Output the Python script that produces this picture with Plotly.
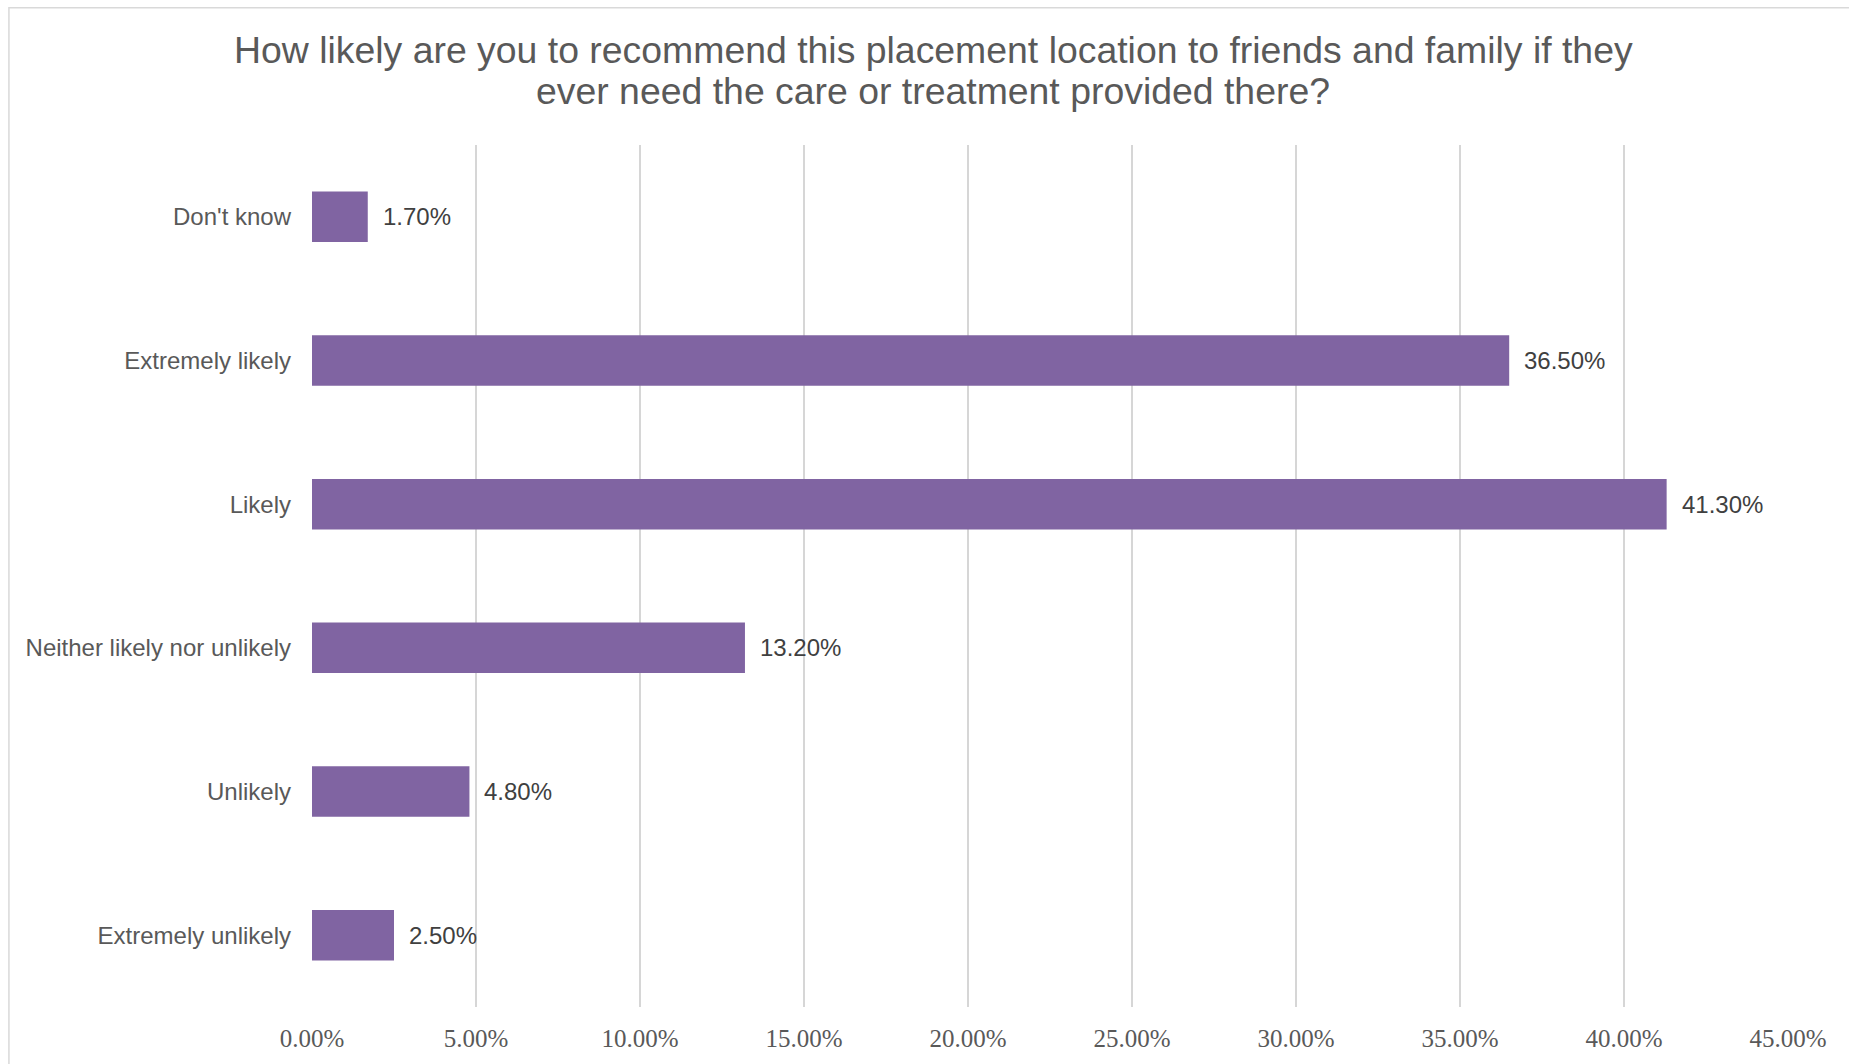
import plotly.graph_objects as go

categories = ["Don't know", "Extremely likely", "Likely",
              "Neither likely nor unlikely", "Unlikely", "Extremely unlikely"]
values = [0.017, 0.365, 0.413, 0.132, 0.048, 0.025]
value_labels = ["1.70%", "36.50%", "41.30%", "13.20%", "4.80%", "2.50%"]
tick_vals = [0, 0.05, 0.10, 0.15, 0.20, 0.25, 0.30, 0.35, 0.40, 0.45]
title_lines = ["How likely are you to recommend this placement location to friends and family if they",
               "ever need the care or treatment provided there?"]

W, H = 1849, 1064
L, R, T, B = 311.6, 61.3, 145, 55
PW, PH = W - L - R, H - T - B

def py(ypx):
    return (H - B - ypx) / PH

def px(xpx):
    return (xpx - L) / PW

fig = go.Figure()
fig.add_trace(go.Bar(
    y=categories, x=values, orientation="h",
    marker=dict(color="#8064A2", line=dict(width=0)),
    hoverinfo="skip",
))

annotations = []
for c, v, t in zip(categories, values, value_labels):
    annotations.append(dict(
        x=v, y=c, xref="x", yref="y", text=t, showarrow=False,
        xanchor="left", yanchor="middle", xshift=13,
        font=dict(family="Arial, Liberation Sans", size=24, color="#404040"),
    ))

title_x = px(932.7)
for line, base in zip(title_lines, [62.5, 103.5]):
    size = 37.4
    annotations.append(dict(
        x=title_x, y=py(base - 0.35 * size), xref="paper", yref="paper",
        text=line, showarrow=False, xanchor="center", yanchor="middle",
        font=dict(family="Arial, Liberation Sans", size=size, color="#595959"),
    ))

fig.update_layout(
    width=W, height=H,
    margin=dict(l=L, r=R, t=T, b=B, pad=0),
    paper_bgcolor="white", plot_bgcolor="white",
    bargap=0.649,
    showlegend=False,
    annotations=annotations,
    shapes=[dict(type="rect", xref="paper", yref="paper",
                 x0=px(8.5), x1=px(W + 50), y0=py(H + 50), y1=py(7.5),
                 line=dict(color="#D9D9D9", width=1.5), layer="below")],
    xaxis=dict(
        range=[0, 0.45], tickvals=tick_vals, tickformat=".2%",
        showgrid=True, gridcolor="#D6D6D6", gridwidth=1.6,
        zeroline=False, showline=False,
        ticks="", ticklabelstandoff=14,
        tickfont=dict(family="Liberation Serif, DejaVu Serif", size=25, color="#595959"),
        fixedrange=True,
    ),
    yaxis=dict(
        autorange="reversed", categoryorder="array", categoryarray=categories,
        showgrid=False, zeroline=False, showline=False,
        ticks="", ticklabelstandoff=20,
        tickfont=dict(family="Arial, Liberation Sans", size=24, color="#595959"),
        fixedrange=True,
    ),
)

fig.write_html("out.html", config={"displayModeBar": False},
               post_script="document.body.style.margin='0';document.body.style.overflow='hidden';")
